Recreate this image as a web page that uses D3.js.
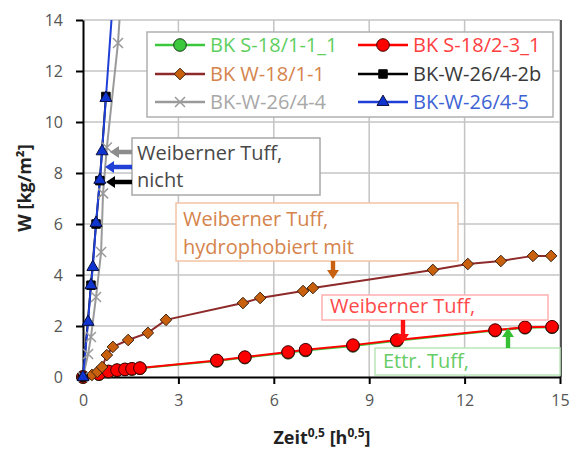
<!DOCTYPE html>
<html><head><meta charset="utf-8">
<script src="https://cdn.jsdelivr.net/npm/d3@7"></script>
<style>
html,body{margin:0;padding:0;background:#fff;}
svg{display:block;font-family:"Open Sans","Noto Sans",sans-serif;}
</style></head>
<body><svg id="chart" width="580" height="450"></svg>
<script>
// ---- data ----
const xTicks = [0, 3, 6, 9, 12, 15];
const yTicks = [0, 2, 4, 6, 8, 10, 12, 14];
const seriesNames = ["BK S-18/1-1_1", "BK S-18/2-3_1", "BK W-18/1-1", "BK-W-26/4-2b", "BK-W-26/4-4", "BK-W-26/4-5"];

const greenX = [0, 0.5, 0.8, 1.07, 1.32, 1.54, 1.79, 4.21, 5.09, 6.45, 7.0, 8.49, 9.87, 12.96, 13.9, 14.75];
const greenY = [0, 0.11, 0.21, 0.26, 0.29, 0.31, 0.34, 0.63, 0.76, 0.95, 1.04, 1.22, 1.42, 1.82, 1.93, 1.95];
const redX = [0, 0.5, 0.8, 1.07, 1.32, 1.54, 1.79, 4.21, 5.09, 6.45, 7.0, 8.49, 9.87, 12.96, 13.9, 14.75];
const redY = [0, 0.12, 0.22, 0.27, 0.3, 0.32, 0.35, 0.65, 0.78, 0.98, 1.07, 1.25, 1.45, 1.84, 1.95, 1.97];
const brownX = [0, 0.28, 0.45, 0.6, 0.75, 0.94, 1.42, 2.04, 2.61, 5.03, 5.57, 6.92, 7.23, 11.0, 12.1, 13.14, 14.15, 14.72];
const brownY = [0, 0.08, 0.2, 0.39, 0.86, 1.18, 1.45, 1.73, 2.24, 2.9, 3.1, 3.37, 3.49, 4.2, 4.43, 4.55, 4.75, 4.75];
const blackX = [0, 0.25, 0.41, 0.53, 0.72];
const blackY = [0, 3.6, 6.0, 7.7, 11.0];
const grayX = [0, 0.16, 0.25, 0.41, 0.57, 0.63, 0.75, 1.1, 1.2];
const grayY = [0, 0.9, 1.57, 3.14, 4.9, 7.2, 9.0, 13.1, 15.0];
const blueX = [0, 0.16, 0.25, 0.31, 0.41, 0.53, 0.6, 0.72, 0.93];
const blueY = [0, 2.16, 3.6, 4.31, 6.04, 7.73, 8.85, 10.94, 14.6];

const annoLines1 = ["Weiberner Tuff,", "nicht"];
const annoLines2 = ["Weiberner Tuff,", "hydrophobiert mit"];
const annoLines3 = ["Weiberner Tuff,"];
const annoLines4 = ["Ettr. Tuff,"];

// ---- layout ----
const svg = d3.select("#chart");
const pLeft = 83, pRight = 560, pTop = 20, pBottom = 377;
const x = d3.scaleLinear().domain([0, 15]).range([pLeft, pRight]);
const y = d3.scaleLinear().domain([0, 14]).range([pBottom, pTop]);

const zip = (a, b) => a.map((v, i) => [v, b[i]]);
const series = [
  {name: seriesNames[0], data: zip(greenX, greenY), line: "#3cc83c", fill: "#3cc83c", stroke: "#1a3a1a", sym: "circle", text: "#5fcf5f"},
  {name: seriesNames[1], data: zip(redX, redY), line: "#ff0000", fill: "#ff0000", stroke: "#3a0000", sym: "circle", text: "#ff4040"},
  {name: seriesNames[2], data: zip(brownX, brownY), line: "#8e2a2a", fill: "#c8600e", stroke: "#3a2010", sym: "diamond", text: "#d5844c"},
  {name: seriesNames[3], data: zip(blackX, blackY), line: "#000000", fill: "#000000", stroke: "#000000", sym: "square", text: "#383838"},
  {name: seriesNames[4], data: zip(grayX, grayY), line: "#9a9a9a", fill: "none", stroke: "#9a9a9a", sym: "x", text: "#a8a8a8"},
  {name: seriesNames[5], data: zip(blueX, blueY), line: "#1f3fd6", fill: "#1034d0", stroke: "#0a1040", sym: "triangle", text: "#3d62d4"}
];

function symPath(type) {
  if (type === "circle") return d3.symbol(d3.symbolCircle, 125)();
  if (type === "square") return d3.symbol(d3.symbolSquare, 72)();
  if (type === "diamond") return "M0,-5.8L5.8,0L0,5.8L-5.8,0Z";
  if (type === "triangle") return d3.symbol(d3.symbolTriangle, 62)();
  if (type === "x") return "M-5,-5L5,5M-5,5L5,-5";
}

// clip
svg.append("defs").append("clipPath").attr("id", "plotclip")
  .append("rect").attr("x", pLeft - 8).attr("y", pTop).attr("width", pRight - pLeft + 8).attr("height", pBottom - pTop + 8);

// grid
const grid = svg.append("g");
grid.selectAll(".gx").data(xTicks.slice(1)).join("line")
  .attr("x1", d => x(d)).attr("x2", d => x(d)).attr("y1", pTop).attr("y2", pBottom)
  .attr("stroke", "#c4c4c4").attr("stroke-width", 1.5);
grid.selectAll(".gy").data(yTicks.slice(1)).join("line")
  .attr("x1", pLeft).attr("x2", pRight).attr("y1", d => y(d)).attr("y2", d => y(d))
  .attr("stroke", "#c4c4c4").attr("stroke-width", 1.5);
// right border
svg.append("line").attr("x1", pRight + 1).attr("x2", pRight + 1).attr("y1", pTop).attr("y2", pBottom)
  .attr("stroke", "#555").attr("stroke-width", 2);

// axes
const xAxis = svg.append("g").attr("transform", `translate(0,${pBottom})`)
  .call(d3.axisBottom(x).tickValues(xTicks).tickSize(7).tickPadding(11).tickSizeOuter(0));
const yAxis = svg.append("g").attr("transform", `translate(${pLeft},0)`)
  .call(d3.axisLeft(y).tickValues(yTicks).tickSize(7).tickPadding(13).tickSizeOuter(0));
[xAxis, yAxis].forEach(a => {
  a.select(".domain").attr("stroke", "#000").attr("stroke-width", 2);
  a.selectAll(".tick line").attr("stroke", "#000").attr("stroke-width", 2);
  a.selectAll(".tick text").attr("fill", "#555").attr("font-size", 16).attr("font-family", "Open Sans");
});

// axis titles
const xt = svg.append("text").attr("x", 322).attr("y", 444).attr("text-anchor", "middle")
  .attr("font-weight", "bold").attr("font-size", 18).attr("fill", "#222");
xt.append("tspan").text("Zeit");
xt.append("tspan").attr("font-size", 12).attr("dy", -7).text("0,5");
xt.append("tspan").attr("dy", 7).text(" [h");
xt.append("tspan").attr("font-size", 12).attr("dy", -7).text("0,5");
xt.append("tspan").attr("dy", 7).text("]");

svg.append("text").attr("transform", "translate(31,188) rotate(-90)").attr("text-anchor", "middle")
  .attr("font-weight", "bold").attr("font-size", 18).attr("fill", "#222").text("W [kg/m²]");

// data
const plot = svg.append("g").attr("clip-path", "url(#plotclip)");
const lineGen = d3.line().x(d => x(d[0])).y(d => y(d[1]));
series.forEach(s => {
  plot.append("path").datum(s.data).attr("d", lineGen).attr("fill", "none")
    .attr("stroke", s.line).attr("stroke-width", 2);
});
series.forEach(s => {
  plot.selectAll(null).data(s.data).join("path")
    .attr("transform", d => `translate(${x(d[0])},${y(d[1])})`)
    .attr("d", symPath(s.sym))
    .attr("fill", s.fill).attr("stroke", s.stroke)
    .attr("stroke-width", s.sym === "x" ? 1.5 : 1);
});

// annotations
function box(x0, y0, w, h, stroke, lines, color, tx, baselines) {
  const g = svg.append("g");
  g.append("rect").attr("x", x0).attr("y", y0).attr("width", w).attr("height", h)
    .attr("fill", "#fff").attr("stroke", stroke).attr("stroke-width", 1.5);
  lines.forEach((t, i) => g.append("text").attr("x", tx).attr("y", baselines[i])
    .attr("font-size", 20).attr("fill", color).text(t));
}
function arrow(x0, y0, x1, y1, color) {
  const dx = x1 - x0, dy = y1 - y0, L = Math.hypot(dx, dy);
  const ux = dx / L, uy = dy / L, px = -uy, py = ux;
  const hl = 9, hw = 6, sw = 2.2;
  const bx = x1 - ux * hl, by = y1 - uy * hl;
  const pts = [
    [x0 + px * sw, y0 + py * sw], [bx + px * sw, by + py * sw], [bx + px * hw, by + py * hw],
    [x1, y1], [bx - px * hw, by - py * hw], [bx - px * sw, by - py * sw], [x0 - px * sw, y0 - py * sw]
  ];
  svg.append("path").attr("d", "M" + pts.map(p => p.join(",")).join("L") + "Z").attr("fill", color);
}
box(132, 138, 188, 57, "#a8a8a8", annoLines1, "#484848", 137, [160, 187]);
arrow(132, 152, 110, 152, "#8c8c8c");
arrow(132, 167, 105, 167, "#2040d6");
arrow(132, 182, 106, 182, "#000");

box(176, 203, 282, 58, "#f2c4a2", annoLines2, "#d5844c", 183, [226, 254]);
arrow(333, 261, 333, 279, "#c8600e");

box(322, 295, 226, 25, "#ffb0b0", annoLines3, "#ff4a4a", 330, [313]);
arrow(403, 320, 403, 343, "#ff1010");

box(375, 348, 185, 27, "#b8e8b8", annoLines4, "#66cc66", 383, [368]);
arrow(508, 348, 508, 328, "#33c033");

// legend
const lg = svg.append("g");
lg.append("rect").attr("x", 147).attr("y", 32).attr("width", 406).attr("height", 85)
  .attr("fill", "#fff").attr("stroke", "#b0b0b0").attr("stroke-width", 1.5);
const colX = [155, 358], rowY = [45, 74, 102];
series.forEach((s, i) => {
  const cx = colX[i % 2], cy = rowY[Math.floor(i / 2)];
  lg.append("line").attr("x1", cx).attr("x2", cx + 50).attr("y1", cy).attr("y2", cy)
    .attr("stroke", s.line).attr("stroke-width", 2.5);
  lg.append("path").attr("transform", `translate(${cx + 25},${cy})`).attr("d", symPath(s.sym))
    .attr("fill", s.fill).attr("stroke", s.stroke).attr("stroke-width", s.sym === "x" ? 1.5 : 1);
  lg.append("text").attr("x", cx + 55).attr("y", cy + 7).attr("font-size", 20)
    .attr("fill", s.text).text(s.name);
});
</script></body></html>
